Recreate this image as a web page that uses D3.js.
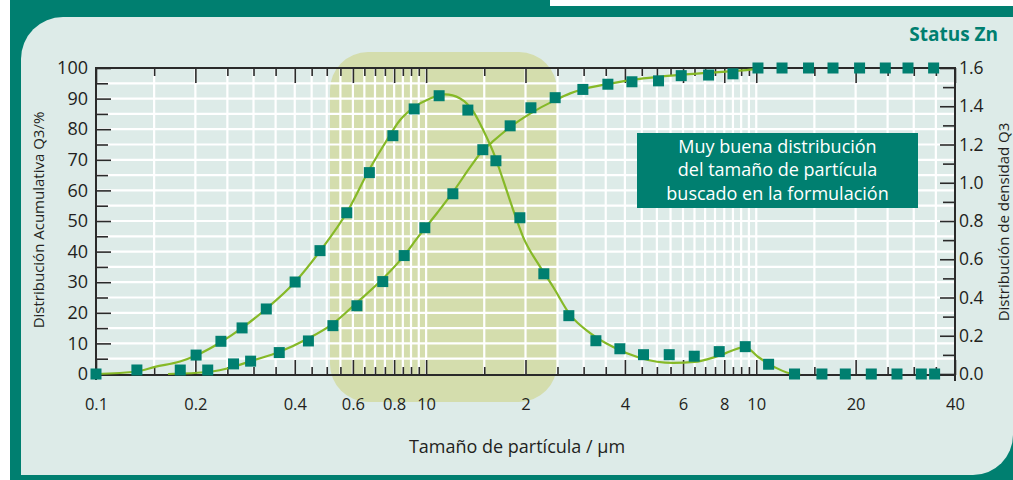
<!DOCTYPE html>
<html>
<head>
<meta charset="utf-8">
<script src="https://cdn.jsdelivr.net/npm/d3@7"></script>
<style>
  body { margin: 0; background: #fff; }
  svg { display: block; font-family: "Open Sans", sans-serif; }
</style>
</head>
<body>
<script>
// cumulative distribution Q3 (%), markers
var cumX = [0.1, 0.180, 0.218, 0.261, 0.294, 0.359, 0.440, 0.522, 0.617, 0.739, 0.858, 0.991, 1.205, 1.485, 1.797, 2.077,
            2.460, 2.984, 3.553, 4.202, 5.058, 5.926, 7.171, 8.500, 10.12, 11.97, 14.40, 17.08, 20.56, 24.60, 28.82, 34.46];
var cumY = [0, 1.3, 1.3, 3.3, 4.2, 7.0, 10.8, 15.8, 22.3, 30.2, 38.7, 47.8, 58.9, 73.3, 81.1, 87.0,
            90.3, 93.0, 94.7, 95.5, 95.8, 97.5, 97.7, 98.1, 100, 100, 100, 100, 100, 100, 100, 100];
// density distribution q3, markers
var denX = [0.133, 0.201, 0.239, 0.277, 0.328, 0.401, 0.477, 0.575, 0.673, 0.793, 0.920, 1.095, 1.338, 1.627, 1.923, 2.273,
            2.706, 3.268, 3.863, 4.555, 5.450, 6.489, 7.725, 9.262, 10.90, 13.06, 15.81, 18.61, 22.31, 26.69, 31.62, 34.70];
var denY = [0.021, 0.099, 0.171, 0.241, 0.340, 0.481, 0.645, 0.843, 1.053, 1.246, 1.386, 1.455, 1.380, 1.115, 0.817, 0.524,
            0.305, 0.174, 0.132, 0.101, 0.101, 0.093, 0.117, 0.143, 0.051, 0, 0, 0, 0, 0, 0, 0];

// fitted curves
var cumFitX = [0.1653, 0.2185, 0.2601, 0.2950, 0.3585, 0.4389, 0.5227, 0.6180, 0.7407, 0.8577, 0.9457, 1.0797, 1.2071, 1.3596,
               1.4887, 1.5849, 1.7970, 2.0662, 2.4599, 2.7315, 2.9286, 3.6105, 4.5443, 5.7625, 7.2550, 9.1344, 10.283];
var cumFitY = [0, 0.65, 2.3, 4.25, 7.2, 11.6, 16.5, 23.4, 31.2, 38.7, 44.8, 52.6, 59.5, 67.6,
               73.2, 75.8, 80.7, 85.1, 89.5, 91.7, 92.8, 94.9, 96.6, 97.7, 98.5, 99.2, 99.9];
var denFitX = [0.1, 0.1331, 0.1509, 0.1797, 0.2023, 0.2392, 0.2770, 0.3274, 0.4009, 0.4773, 0.5763, 0.6767, 0.7511, 0.8342,
               0.9134, 1.0283, 1.1419, 1.2679, 1.3883, 1.4887, 1.5960, 1.7113, 1.8349, 1.9674, 2.2155, 2.4258, 2.7315,
               3.1401, 3.6869, 4.4500, 5.6030, 6.4893, 7.6700, 9.2624, 10.14, 11.34, 13.04, 13.59];
var denFitY = [0, 0.013, 0.037, 0.065, 0.099, 0.167, 0.241, 0.340, 0.481, 0.643, 0.847, 1.077, 1.208, 1.328,
               1.391, 1.441, 1.462, 1.441, 1.373, 1.276, 1.161, 1.014, 0.858, 0.716, 0.560, 0.455, 0.309,
               0.214, 0.141, 0.084, 0.058, 0.063, 0.094, 0.141, 0.089, 0.037, 0, 0];

// axis ticks
var xMajor = [0.1, 0.2, 0.4, 0.6, 0.8, 1, 2, 4, 6, 8, 10, 20, 40];
var xLabels = ["0.1", "0.2", "0.4", "0.6", "0.8", "10", "2", "4", "6", "8", "10", "20", "40"];
var xMinor = [0.15, 0.25, 0.3, 0.35, 0.45, 0.5, 0.55, 0.65, 0.7, 0.75, 0.85, 0.9, 0.95,
              1.5, 2.5, 3, 3.5, 4.5, 5, 5.5, 6.5, 7, 7.5, 8.5, 9, 9.5, 15, 25, 30, 35];
var leftMajor = [0, 10, 20, 30, 40, 50, 60, 70, 80, 90, 100];
var leftMinor = [5, 15, 25, 35, 45, 55, 65, 75, 85, 95];
var rightMajor = [0, 0.2, 0.4, 0.6, 0.8, 1.0, 1.2, 1.4, 1.6];
var rightMinor = [0.1, 0.3, 0.5, 0.7, 0.9, 1.1, 1.3, 1.5];
var noteLines = ["Muy buena distribución", "del tamaño de partícula", "buscado en la formulación"];

var teal = "#007f70", green = "#86b927", ink = "#231f20";

var svg = d3.select("body").append("svg")
    .attr("width", 1013)
    .attr("height", 480);

var x = d3.scaleLog().domain([0.1, 40]).range([96, 955]);
var yL = d3.scaleLinear().domain([0, 100]).range([374, 68]);
var yR = d3.scaleLinear().domain([0, 1.6]).range([374, 68]);

// frame
svg.append("rect").attr("x", 10).attr("y", 0).attr("width", 1003).attr("height", 480).attr("fill", teal);
svg.append("rect").attr("x", 550).attr("y", 0).attr("width", 463).attr("height", 6).attr("fill", "#fff");
svg.append("path")
    .attr("d", "M63,17 H1013 V435 A40,40 0 0 1 973,475 H21 V59 A42,42 0 0 1 63,17 Z")
    .attr("fill", "#ddebe8");

svg.append("text")
    .attr("x", 998).attr("y", 41)
    .attr("text-anchor", "end")
    .attr("font-size", 19).attr("font-weight", "bold")
    .attr("fill", teal)
    .text("Status Zn");

// highlighted size range
svg.append("rect")
    .attr("x", 330).attr("y", 52).attr("width", 227).attr("height", 350)
    .attr("rx", 38).attr("ry", 38)
    .attr("fill", "#d4ddad");

// grid
var grid = svg.append("g").attr("stroke", "#fff").attr("stroke-width", 2.2);
grid.selectAll("line.v")
    .data(xMajor.concat(xMinor).filter(function(d){ return d > 0.1 && d < 40; }))
    .enter().append("line")
    .attr("class", "v")
    .attr("x1", function(d){ return x(d); })
    .attr("x2", function(d){ return x(d); })
    .attr("y1", yL(100)).attr("y2", yL(0));
grid.selectAll("line.h")
    .data(leftMajor.concat(leftMinor).filter(function(d){ return d > 0 && d < 100; }))
    .enter().append("line")
    .attr("class", "h")
    .attr("y1", function(d){ return yL(d); })
    .attr("y2", function(d){ return yL(d); })
    .attr("x1", x(0.1)).attr("x2", x(40));

// axes
function styleAxis(g) {
  g.select(".domain").remove();
  g.selectAll(".tick line").attr("stroke", "#2a2a2a").attr("stroke-width", 1.6);
  g.selectAll(".tick text").attr("fill", ink).attr("font-family", "Open Sans, sans-serif");
}

svg.append("g").attr("transform", "translate(0,375)")
    .call(d3.axisBottom(x).tickValues(xMajor).tickSize(-15).tickPadding(23)
      .tickFormat(function(d, i){ return xLabels[i]; }))
    .attr("font-size", 16.5)
    .call(styleAxis);
svg.append("g").attr("transform", "translate(0,375)")
    .call(d3.axisBottom(x).tickValues(xMinor).tickSize(-8).tickFormat(""))
    .call(styleAxis);
svg.append("g").attr("transform", "translate(0,68)")
    .call(d3.axisTop(x).tickValues(xMajor).tickSize(-15).tickFormat(""))
    .call(styleAxis);
svg.append("g").attr("transform", "translate(0,68)")
    .call(d3.axisTop(x).tickValues(xMinor).tickSize(-8).tickFormat(""))
    .call(styleAxis);

svg.append("g").attr("transform", "translate(96,0)")
    .call(d3.axisLeft(yL).tickValues(leftMajor).tickSize(-15).tickPadding(8))
    .attr("font-size", 18)
    .call(styleAxis);
svg.append("g").attr("transform", "translate(96,0)")
    .call(d3.axisLeft(yL).tickValues(leftMinor).tickSize(-12).tickFormat(""))
    .call(styleAxis);
svg.append("g").attr("transform", "translate(955,0)")
    .call(d3.axisRight(yR).tickValues(rightMajor).tickSize(-15).tickPadding(4).tickFormat(d3.format(".1f")))
    .attr("font-size", 17.5)
    .call(styleAxis);
svg.append("g").attr("transform", "translate(955,0)")
    .call(d3.axisRight(yR).tickValues(rightMinor).tickSize(-12).tickFormat(""))
    .call(styleAxis);

var frame = svg.append("g").attr("stroke", "#2a2a2a").attr("stroke-width", 2);
frame.append("line").attr("x1", x(0.1)).attr("x2", x(40)).attr("y1", 68).attr("y2", 68);
frame.append("line").attr("x1", x(0.1)).attr("x2", x(40)).attr("y1", 375).attr("y2", 375);
frame.append("line").attr("x1", x(0.1)).attr("x2", x(0.1)).attr("y1", 67).attr("y2", 380);
frame.append("line").attr("x1", x(40)).attr("x2", x(40)).attr("y1", 67).attr("y2", 381);

// fitted curves
var lineL = d3.line().x(function(d){ return x(d[0]); }).y(function(d){ return yL(d[1]); }).curve(d3.curveMonotoneX);
var lineR = d3.line().x(function(d){ return x(d[0]); }).y(function(d){ return yR(d[1]); }).curve(d3.curveMonotoneX);

svg.append("path")
    .attr("d", lineL(d3.zip(cumFitX, cumFitY)))
    .attr("fill", "none").attr("stroke", green).attr("stroke-width", 2.2);
svg.append("path")
    .attr("d", lineR(d3.zip(denFitX, denFitY)))
    .attr("fill", "none").attr("stroke", green).attr("stroke-width", 2.2);

// markers
var ms = 11;
svg.selectAll("rect.cum")
    .data(d3.zip(cumX, cumY))
    .enter().append("rect")
    .attr("class", "cum")
    .attr("x", function(d){ return x(d[0]) - ms / 2; })
    .attr("y", function(d){ return yL(d[1]) - ms / 2; })
    .attr("width", ms).attr("height", ms)
    .attr("fill", teal);
svg.selectAll("rect.den")
    .data(d3.zip(denX, denY))
    .enter().append("rect")
    .attr("class", "den")
    .attr("x", function(d){ return x(d[0]) - ms / 2; })
    .attr("y", function(d){ return yR(d[1]) - ms / 2; })
    .attr("width", ms).attr("height", ms)
    .attr("fill", teal);

// note box
svg.append("rect")
    .attr("x", 637).attr("y", 133).attr("width", 281).attr("height", 75)
    .attr("fill", teal);
svg.append("g").selectAll("text")
    .data(noteLines)
    .enter().append("text")
    .attr("x", 777.5)
    .attr("y", function(d, i){ return 152.5 + i * 23.5; })
    .attr("text-anchor", "middle")
    .attr("font-size", 18)
    .attr("fill", "#fff")
    .text(function(d){ return d; });

// axis titles
svg.append("text")
    .attr("transform", "translate(38,220) rotate(-90)")
    .attr("text-anchor", "middle").attr("dominant-baseline", "central")
    .attr("font-size", 15).attr("fill", ink)
    .text("Distribución Acumulativa Q3/%");
svg.append("text")
    .attr("transform", "translate(1003,222) rotate(-90)")
    .attr("text-anchor", "middle").attr("dominant-baseline", "central")
    .attr("font-size", 15).attr("fill", ink)
    .text("Distribución de densidad Q3");
svg.append("text")
    .attr("x", 517).attr("y", 453)
    .attr("text-anchor", "middle")
    .attr("font-size", 18).attr("fill", ink)
    .text("Tamaño de partícula / μm");
</script>
</body>
</html>
